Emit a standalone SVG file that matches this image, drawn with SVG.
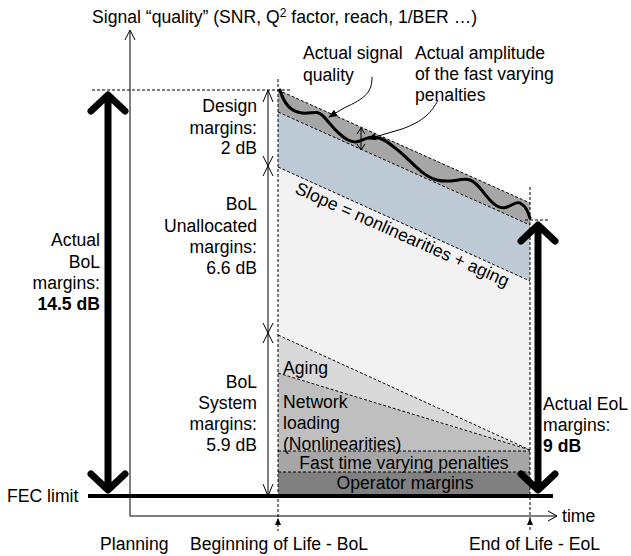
<svg xmlns="http://www.w3.org/2000/svg" width="631" height="556" viewBox="0 0 631 556">
<defs>
<style>
text{font-family:"Liberation Sans",Arial,sans-serif;font-size:17.6px;fill:#000}
.r{text-anchor:end}
.m{text-anchor:middle}
.b{font-weight:bold}
.dash{fill:none;stroke:#000;stroke-width:1;stroke-dasharray:3,2}
.thin{fill:none;stroke:#000;stroke-width:1}
.big{fill:none;stroke:#000;stroke-width:7;stroke-linecap:round;stroke-linejoin:round}
.wave{fill:none;stroke:#000;stroke-width:3;stroke-linecap:round}
</style>
<marker id="fa" viewBox="0 0 10 10" refX="9" refY="5" markerWidth="9" markerHeight="9" orient="auto" markerUnits="userSpaceOnUse"><path d="M0,1 L10,5 L0,9 z" fill="#000"/></marker>
</defs>
<rect width="631" height="556" fill="#fff"/>

<g id="regions">
<polygon points="278,167 530,281 530,451 278,451" fill="#f2f2f2"/>
<polygon points="278,335 530,451 278,451" fill="#d9d9d9"/>
<polygon points="278,373 530,451 278,451" fill="#bfbfbf"/>
<rect x="278" y="451" width="252" height="21" fill="#a6a6a6"/>
<rect x="278" y="472" width="252" height="24" fill="#808080"/>
<polygon points="278,112 530,225 530,281 278,167" fill="#bdc9d5"/>
<polygon points="278,90 530,203 530,225 278,112" fill="#a6a6a6"/>
<path class="dash" d="M278,90 L530,203 M278,112 L530,225 M278,167 L530,281 M278,335 L530,450 M278,373 L530,450 M278,451 H530 M278,472 H530"/>
</g>

<g id="axes">
<path class="thin" d="M130,516 V31 M125,40 L130,30 L135,40"/>
<path class="thin" d="M130,516 H557 M548,511 L557,516 L548,521"/>
<path class="dash" d="M278,79 V531 M530,187 V531 M92,90 H290 M525,220 H550"/>
<path d="M278,518 L275,525 L281,525 z M530,518 L527,525 L533,525 z" fill="#000"/>
</g>

<g id="fec-limit">
<path d="M88,496 H553" stroke="#000" stroke-width="4"/>
<text x="7" y="502">FEC limit</text>
</g>

<g id="signal-curve">
<path class="wave" d="M280,90 C284,104 292,112 302,113 S316,110 322,115 S336,134 348,140 S364,136 374,137 S390,144 400,152 S422,176 437,180 S460,177 470,180 S486,200 497,206 S514,200 520,203 S528,212 530,218"/>
</g>

<g id="amplitude-marker">
<path class="thin" d="M361,128 V150 M357,134 L361,128 L365,134 M357,144 L361,150 L365,144"/>
</g>

<g id="connectors">
<path class="thin" d="M372,77 C372,92 366,98 344,108 L329,117" marker-end="url(#fa)"/>
<path class="thin" d="M438,100 C432,112 424,121 402,129 L368,139" marker-end="url(#fa)"/>
</g>

<g id="design-dimension">
<path class="thin" d="M268,90 V496 M263,102 L268,90 L273,102 M263,156 L268,166 L273,156 M263,176 L268,166 L273,176 M263,323 L268,333 L273,323 M263,343 L268,333 L273,343 M263,484 L268,496 L273,484"/>
</g>

<g id="bol-arrow">
<path class="big" d="M108,96 V489 M91,111 L108,95 L125,111 M91,474 L108,490 L125,474"/>
</g>
<g id="eol-arrow">
<path class="big" d="M538,226 V489 M521,241 L538,225 L555,241 M521,474 L538,490 L555,474"/>
</g>

<g id="title">
<text x="92" y="23">Signal “quality” (SNR, Q<tspan dy="-6" font-size="12">2</tspan><tspan dy="6"> factor, reach, 1/BER …)</tspan></text>
</g>

<g id="label-signal">
<text x="303" y="59">Actual signal</text>
<text x="303" y="81">quality</text>
</g>
<g id="label-amplitude">
<text x="415" y="59">Actual amplitude</text>
<text x="415" y="80">of the fast varying</text>
<text x="415" y="101">penalties</text>
</g>

<g id="label-bol-margins">
<text class="r" x="100" y="246">Actual</text>
<text class="r" x="100" y="268">BoL</text>
<text class="r" x="100" y="289">margins:</text>
<text class="r b" x="100" y="310">14.5 dB</text>
</g>

<g id="label-design">
<text class="r" x="257" y="112">Design</text>
<text class="r" x="257" y="134">margins:</text>
<text class="r" x="257" y="154">2 dB</text>
</g>
<g id="label-unallocated">
<text class="r" x="257" y="210">BoL</text>
<text class="r" x="257" y="232">Unallocated</text>
<text class="r" x="257" y="253">margins:</text>
<text class="r" x="257" y="274">6.6 dB</text>
</g>
<g id="label-system">
<text class="r" x="257" y="388">BoL</text>
<text class="r" x="257" y="409">System</text>
<text class="r" x="257" y="430">margins:</text>
<text class="r" x="257" y="451">5.9 dB</text>
</g>

<g id="label-eol-margins">
<text x="543" y="410">Actual EoL</text>
<text x="543" y="431">margins:</text>
<text class="b" x="543" y="452">9 dB</text>
</g>

<g id="label-slope">
<text class="m" x="400" y="240" transform="rotate(24 400 240)">Slope = nonlinearities + aging</text>
</g>

<g id="label-regions">
<text x="283" y="374">Aging</text>
<text x="283" y="408">Network</text>
<text x="283" y="429">loading</text>
<text x="283" y="450">(Nonlinearities)</text>
<text class="m" x="404" y="469">Fast time varying penalties</text>
<text class="m" x="405" y="489">Operator margins</text>
</g>

<g id="time-labels">
<text x="562" y="522">time</text>
<text x="100" y="550">Planning</text>
<text x="190" y="550">Beginning of Life - BoL</text>
<text x="469" y="550">End of Life - EoL</text>
</g>
</svg>
